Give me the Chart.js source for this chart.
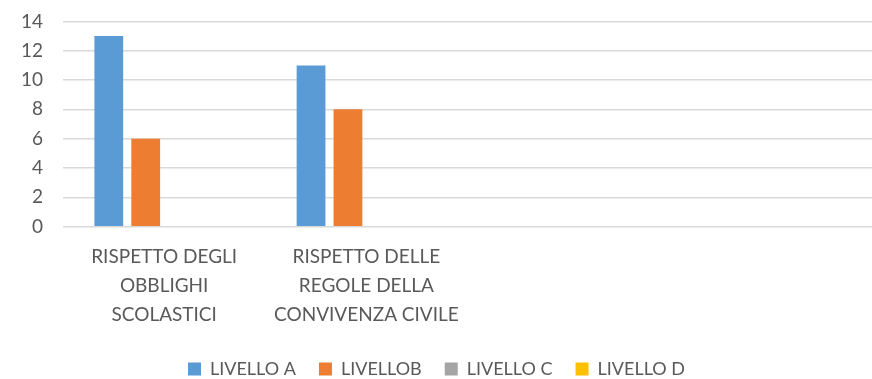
<!DOCTYPE html>
<html>
<head>
<meta charset="utf-8">
<script src="https://cdn.jsdelivr.net/npm/chart.js@4"></script>
<style>
  html, body { margin: 0; padding: 0; background: #fff; overflow: hidden; }
  #wrap { width: 872px; height: 379px; position: relative; overflow: hidden; }
  #inner { position: absolute; left: 0; top: -10px; width: 872px; height: 398px; }
</style>
</head>
<body>
<div id="wrap"><div id="inner"><canvas id="chart"></canvas></div></div>
<script>
// categories (multi-line labels), last two are empty
const categories = [
    ["RISPETTO DEGLI", "OBBLIGHI", "SCOLASTICI"],
    ["RISPETTO DELLE", "REGOLE DELLA", "CONVIVENZA CIVILE"],
    "",
    ""
];
const livelloA = [13, 11, null, null];
const livelloB = [6, 8, null, null];
const livelloC = [0, 0, null, null];
const livelloD = [0, 0, null, null];
const seriesNames = ["LIVELLO A", "LIVELLOB", "LIVELLO C", "LIVELLO D"];
const yTicks = [0, 2, 4, 6, 8, 10, 12, 14];

const colors = ["#5b9bd5", "#ed7d31", "#a5a5a5", "#ffc000"];
const textColor = "#595959";
const font = "Lato, 'Open Sans', sans-serif";

const datasets = [livelloA, livelloB, livelloC, livelloD].map((values, i) => ({
    label: seriesNames[i],
    data: values,
    backgroundColor: colors[i],
    borderWidth: 0,
    barPercentage: 0.78,
    categoryPercentage: 0.73
}));

new Chart(document.getElementById("chart"), {
    type: "bar",
    data: { labels: categories, datasets: datasets },
    options: {
        responsive: true,
        maintainAspectRatio: false,
        animation: false,
        layout: { padding: { left: 1, right: 0, top: 0, bottom: 0 } },
        plugins: {
            tooltip: { enabled: false },
            legend: {
                position: "bottom",
                labels: {
                    color: textColor,
                    font: { family: font, size: 18 },
                    boxWidth: 13,
                    boxHeight: 13,
                    padding: 23
                }
            }
        },
        scales: {
            x: {
                grid: { display: false },
                border: { display: false },
                ticks: {
                    color: textColor,
                    font: { family: font, size: 19, lineHeight: 1.55 },
                    maxRotation: 0,
                    autoSkip: false,
                    padding: 7
                }
            },
            y: {
                min: yTicks[0],
                max: yTicks[yTicks.length - 1],
                afterBuildTicks: axis => { axis.ticks = yTicks.map(v => ({ value: v })); },
                grid: { color: "#d9d9d9", lineWidth: 1.5, drawTicks: false },
                border: { display: false },
                ticks: {
                    color: textColor,
                    font: { family: font, size: 19 },
                    padding: 20
                }
            }
        }
    }
});
</script>
</body>
</html>
